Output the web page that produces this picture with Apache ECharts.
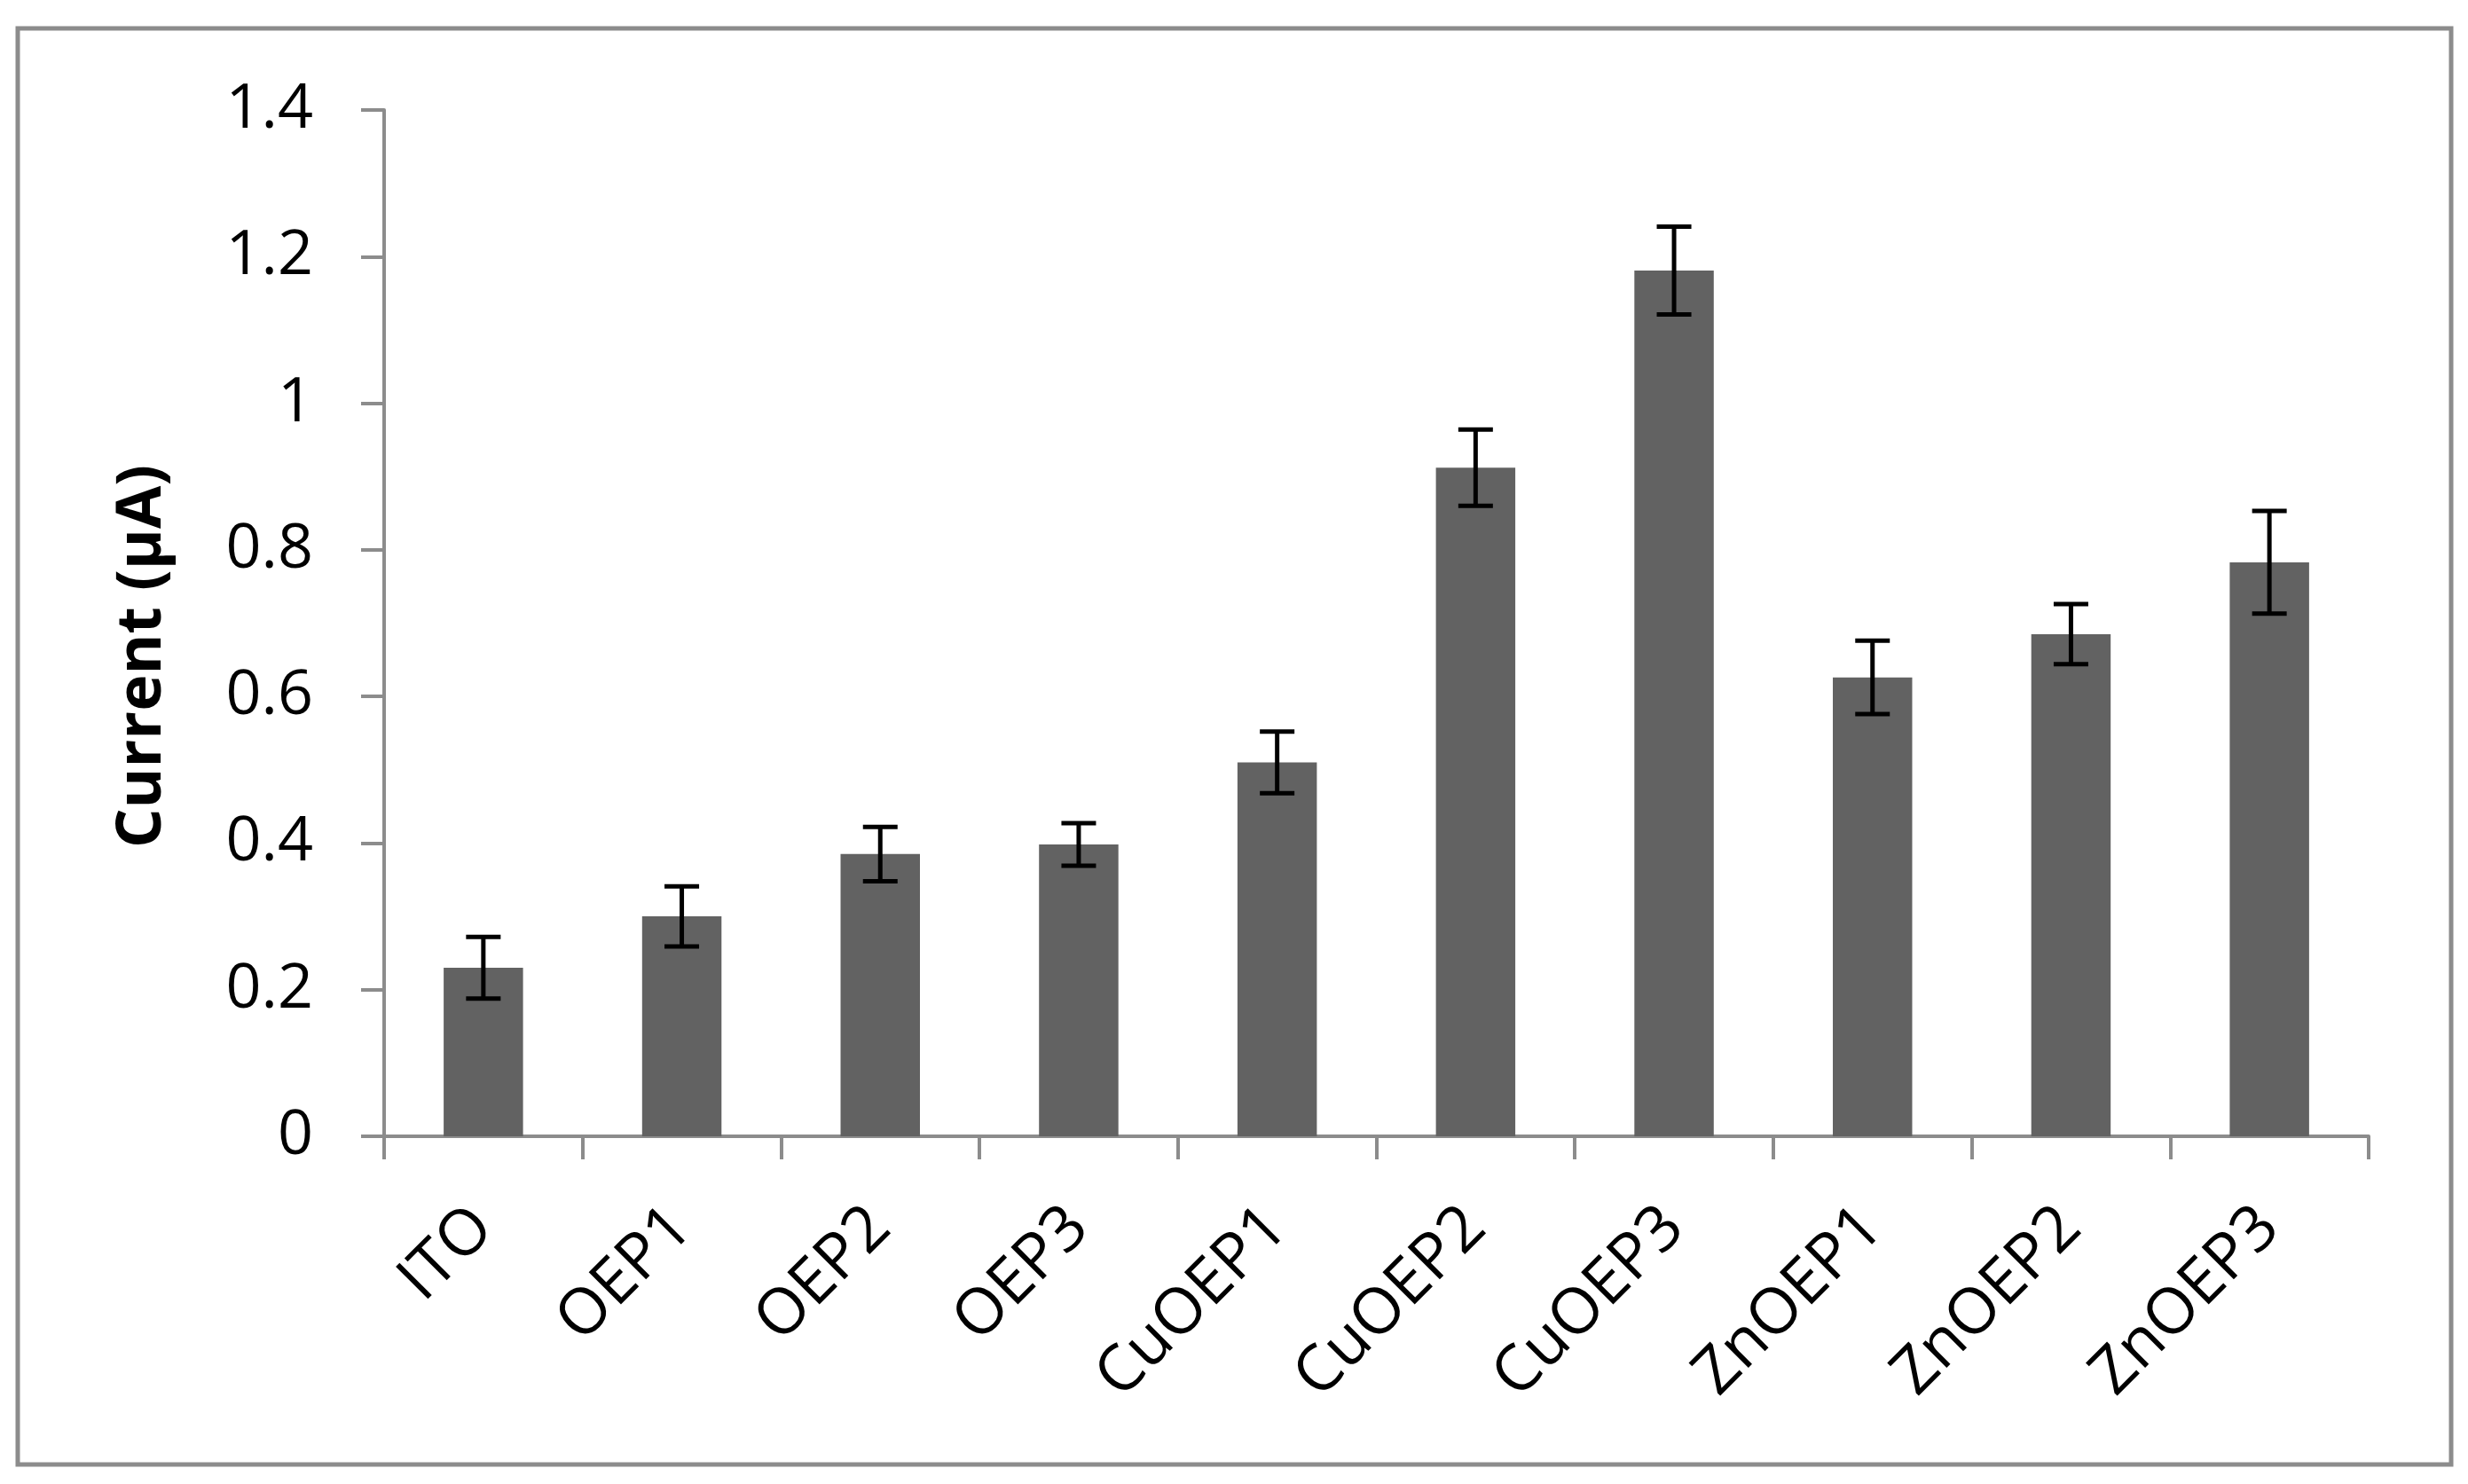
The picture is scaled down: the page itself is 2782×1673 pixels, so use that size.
<!DOCTYPE html>
<html>
<head>
<meta charset="utf-8">
<title>Current</title>
<script src="https://cdn.jsdelivr.net/npm/echarts@6/dist/echarts.min.js"></script>
<style>
  html, body { margin: 0; padding: 0; background: #fff; }
  #chart { width: 2782px; height: 1673px; }
</style>
</head>
<body>
<div id="chart"></div>
<script>
// data
var categories = ['ITO', 'OEP1', 'OEP2', 'OEP3', 'CuOEP1', 'CuOEP2', 'CuOEP3', 'ZnOEP1', 'ZnOEP2', 'ZnOEP3']
var currents = [0.23, 0.30, 0.385, 0.398, 0.51, 0.912, 1.181, 0.626, 0.685, 0.783]
var errors = [0.042, 0.041, 0.037, 0.029, 0.042, 0.052, 0.06, 0.05, 0.041, 0.07]
var yTicks = { min: 0, max: 1.4, interval: 0.2 }

var axisGrey = '#8c8c8c'
var font = '"Open Sans", "Liberation Sans", sans-serif'

var chart = echarts.init(document.getElementById('chart'))

var errData = currents.map(function (v, i) {
  return [i, v, errors[i]]
})

chart.setOption({
  backgroundColor: '#fff',
  animation: false,
  graphic: [
    {
      type: 'rect',
      shape: { x: 20, y: 32, width: 2743, height: 1619 },
      style: { fill: 'none', stroke: axisGrey, lineWidth: 5 },
      silent: true
    },
    {
      type: 'text',
      x: 161,
      y: 740,
      rotation: Math.PI / 2,
      style: {
        text: 'Current (µA)',
        font: 'bold 70px ' + font,
        fill: '#000',
        align: 'center',
        verticalAlign: 'middle'
      }
    }
  ],
  grid: {
    left: 433,
    right: 112,
    top: 124,
    bottom: 392,
    containLabel: false
  },
  xAxis: {
    type: 'category',
    data: categories,
    axisLine: { lineStyle: { color: axisGrey, width: 4 } },
    axisTick: { show: true, length: 26, lineStyle: { color: axisGrey, width: 4 } },
    axisLabel: {
      interval: 0,
      rotate: 45,
      margin: 92,
      color: '#000',
      fontSize: 72,
      fontFamily: font
    },
    splitLine: { show: false }
  },
  yAxis: {
    type: 'value',
    min: yTicks.min,
    max: yTicks.max,
    interval: yTicks.interval,
    axisLine: { show: true, lineStyle: { color: axisGrey, width: 4 } },
    axisTick: { show: true, length: 26, lineStyle: { color: axisGrey, width: 4 } },
    axisLabel: {
      margin: 80,
      color: '#000',
      fontSize: 70,
      fontFamily: font
    },
    splitLine: { show: false }
  },
  series: [
    {
      name: 'Current',
      type: 'bar',
      data: currents,
      barWidth: '40%',
      itemStyle: { color: '#626262' }
    },
    {
      name: 'Error',
      type: 'custom',
      data: errData,
      z: 10,
      renderItem: function (params, api) {
        var idx = api.value(0)
        var v = api.value(1)
        var e = api.value(2)
        var hi = api.coord([idx, v + e])
        var lo = api.coord([idx, v - e])
        var half = 19.5
        var st = { stroke: '#000', lineWidth: 5 }
        return {
          type: 'group',
          children: [
            { type: 'line', shape: { x1: hi[0], y1: hi[1], x2: lo[0], y2: lo[1] }, style: st },
            { type: 'line', shape: { x1: hi[0] - half, y1: hi[1], x2: hi[0] + half, y2: hi[1] }, style: st },
            { type: 'line', shape: { x1: lo[0] - half, y1: lo[1], x2: lo[0] + half, y2: lo[1] }, style: st }
          ]
        }
      }
    }
  ]
})
</script>
</body>
</html>
